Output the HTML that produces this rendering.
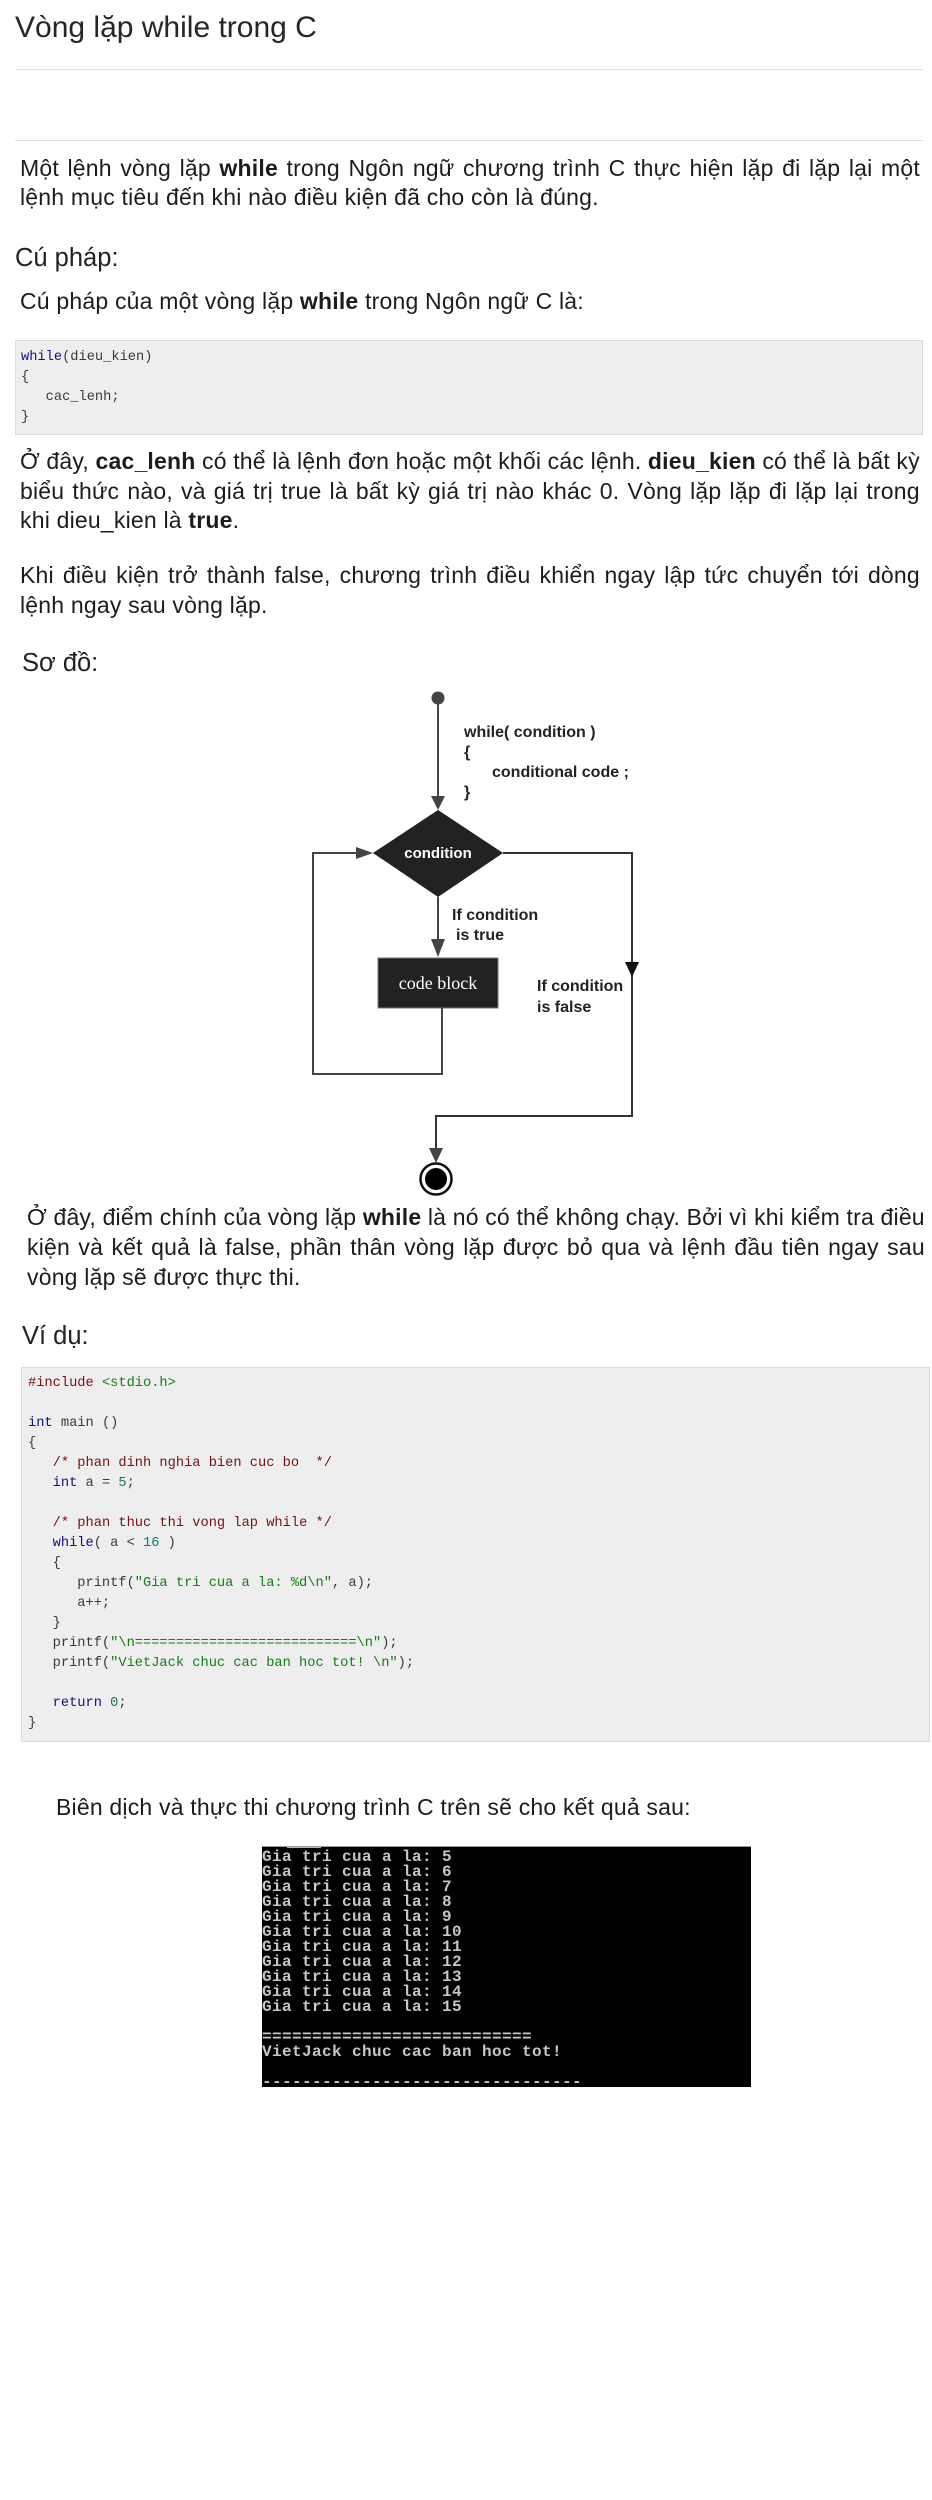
<!DOCTYPE html>
<html lang="vi">
<head>
<meta charset="utf-8">
<title>Vòng lặp while trong C</title>
<style>
  html,body{margin:0;padding:0;background:#fff;}
  body{width:932px;height:2500px;position:relative;overflow:hidden;
       font-family:"Liberation Sans","DejaVu Sans",sans-serif;color:#1c1c1c;}
  .a{position:absolute;}
  .hr{left:15px;width:908px;height:1px;background:#e0e0e0;}
  .p{font-size:23px;letter-spacing:0.2px;}
  .jl{display:flex;justify-content:space-between;white-space:nowrap;}
  .last{white-space:nowrap;}
  .h{font-size:25.5px;line-height:30px;color:#222;white-space:nowrap;}
  b{font-weight:bold;}
  .code{background:#eeeeee;border:1px solid #dcdcdc;box-sizing:border-box;}
  .code pre{margin:0;font-family:"Liberation Mono","DejaVu Sans Mono",monospace;
            font-size:13.7px;line-height:20px;color:#3a3a3a;white-space:pre;}
  .k{color:#10108a;}
  .pp{color:#7a1010;}
  .c{color:#7a1010;}
  .s{color:#108010;}
  .n{color:#0a7a6a;}
  .term{background:#000;overflow:hidden;border-top:1px solid #9a9a9a;box-sizing:border-box;}
  .term pre{margin:0;font-family:"Liberation Mono","DejaVu Sans Mono",monospace;font-weight:bold;
            font-size:16px;letter-spacing:0.4px;line-height:15px;color:#c6c6c6;white-space:pre;}
</style>
</head>
<body>

<div class="a" style="left:15px;top:10px;font-size:30px;line-height:36px;color:#262626;white-space:nowrap;">Vòng lặp while trong C</div>
<div class="a hr" style="top:69px;"></div>
<div class="a hr" style="top:140px;"></div>

<!-- P1 -->
<div class="a p" style="left:20px;top:154px;width:900px;line-height:29px;">
  <div class="jl"><span>Một</span><span>lệnh</span><span>vòng</span><span>lặp</span><b>while</b><span>trong</span><span>Ngôn</span><span>ngữ</span><span>chương</span><span>trình</span><span>C</span><span>thực</span><span>hiện</span><span>lặp</span><span>đi</span><span>lặp</span><span>lại</span><span>một</span></div>
  <div class="last">lệnh mục tiêu đến khi nào điều kiện đã cho còn là đúng.</div>
</div>

<div class="a h" style="left:15px;top:243px;">Cú pháp:</div>

<div class="a p last" style="left:20px;top:287px;line-height:29px;">Cú pháp của một vòng lặp <b>while</b> trong Ngôn ngữ C là:</div>

<div class="a code" style="left:15px;top:340px;width:908px;height:95px;padding:7px 0 0 5px;">
<pre><span class="k">while</span>(dieu_kien)
{
   cac_lenh;
}</pre>
</div>

<!-- P3 -->
<div class="a p" style="left:20px;top:447px;width:900px;line-height:29.5px;">
  <div class="jl"><span>Ở</span><span>đây,</span><b>cac_lenh</b><span>có</span><span>thể</span><span>là</span><span>lệnh</span><span>đơn</span><span>hoặc</span><span>một</span><span>khối</span><span>các</span><span>lệnh.</span><b>dieu_kien</b><span>có</span><span>thể</span><span>là</span><span>bất</span><span>kỳ</span></div>
  <div class="jl"><span>biểu</span><span>thức</span><span>nào,</span><span>và</span><span>giá</span><span>trị</span><span>true</span><span>là</span><span>bất</span><span>kỳ</span><span>giá</span><span>trị</span><span>nào</span><span>khác</span><span>0.</span><span>Vòng</span><span>lặp</span><span>lặp</span><span>đi</span><span>lặp</span><span>lại</span><span>trong</span></div>
  <div class="last">khi dieu_kien là <b>true</b>.</div>
</div>

<!-- P4 -->
<div class="a p" style="left:20px;top:560px;width:900px;line-height:30px;">
  <div class="jl"><span>Khi</span><span>điều</span><span>kiện</span><span>trở</span><span>thành</span><span>false,</span><span>chương</span><span>trình</span><span>điều</span><span>khiển</span><span>ngay</span><span>lập</span><span>tức</span><span>chuyển</span><span>tới</span><span>dòng</span></div>
  <div class="last">lệnh ngay sau vòng lặp.</div>
</div>

<div class="a h" style="left:22px;top:648px;">Sơ đồ:</div>

<!-- Flowchart -->
<svg class="a" style="left:0;top:680px;" width="932" height="520" viewBox="0 680 932 520" xmlns="http://www.w3.org/2000/svg">
  <!-- start -->
  <circle cx="438" cy="698" r="6.5" fill="#444"/>
  <line x1="438" y1="700" x2="438" y2="798" stroke="#444" stroke-width="2"/>
  <polygon points="431,796 445,796 438,810" fill="#444"/>
  <!-- code text -->
  <g font-family="Liberation Sans, Arial, sans-serif" font-weight="bold" font-size="16" fill="#222">
    <text x="464" y="737">while( condition )</text>
    <text x="464" y="757">{</text>
    <text x="492" y="777">conditional code ;</text>
    <text x="464" y="797">}</text>
  </g>
  <!-- diamond -->
  <polygon points="438,810 503,853 438,897 373,853" fill="#222"/>
  <text x="438" y="858" text-anchor="middle" font-family="Liberation Sans, Arial, sans-serif" font-weight="bold" font-size="15" fill="#fff">condition</text>
  <!-- true path -->
  <line x1="438" y1="897" x2="438" y2="942" stroke="#444" stroke-width="2"/>
  <polygon points="431,939 445,939 438,957" fill="#444"/>
  <g font-family="Liberation Sans, Arial, sans-serif" font-weight="bold" font-size="16" fill="#222">
    <text x="452" y="920">If condition</text>
    <text x="456" y="940">is true</text>
    <text x="537" y="991">If condition</text>
    <text x="537" y="1012">is false</text>
  </g>
  <!-- code block -->
  <rect x="378" y="958" width="120" height="50" fill="#222" stroke="#777" stroke-width="1"/>
  <text x="438" y="989" text-anchor="middle" font-family="Liberation Serif, serif" font-size="18" fill="#fff">code block</text>
  <!-- loop back -->
  <polyline points="442,1008 442,1074 313,1074 313,853 360,853" fill="none" stroke="#444" stroke-width="2"/>
  <polygon points="356,847 356,859 373,853" fill="#444"/>
  <!-- false path -->
  <polyline points="503,853 632,853 632,1116 436,1116 436,1150" fill="none" stroke="#333" stroke-width="2"/>
  <polygon points="625,962 639,962 632,977" fill="#111"/>
  <polygon points="429,1148 443,1148 436,1163" fill="#444"/>
  <!-- end -->
  <circle cx="436" cy="1179" r="15.5" fill="#fff" stroke="#111" stroke-width="2.5"/>
  <circle cx="436" cy="1179" r="11" fill="#000"/>
</svg>

<!-- P5 -->
<div class="a p" style="left:27px;top:1202px;width:898px;line-height:30px;">
  <div class="jl"><span>Ở</span><span>đây,</span><span>điểm</span><span>chính</span><span>của</span><span>vòng</span><span>lặp</span><b>while</b><span>là</span><span>nó</span><span>có</span><span>thể</span><span>không</span><span>chạy.</span><span>Bởi</span><span>vì</span><span>khi</span><span>kiểm</span><span>tra</span><span>điều</span></div>
  <div class="jl"><span>kiện</span><span>và</span><span>kết</span><span>quả</span><span>là</span><span>false,</span><span>phần</span><span>thân</span><span>vòng</span><span>lặp</span><span>được</span><span>bỏ</span><span>qua</span><span>và</span><span>lệnh</span><span>đầu</span><span>tiên</span><span>ngay</span><span>sau</span></div>
  <div class="last">vòng lặp sẽ được thực thi.</div>
</div>

<div class="a h" style="left:22px;top:1321px;">Ví dụ:</div>

<div class="a code" style="left:21px;top:1367px;width:909px;height:375px;padding:6px 0 0 6px;">
<pre><span class="pp">#include</span> <span class="s">&lt;stdio.h&gt;</span>

<span class="k">int</span> main ()
{
   <span class="c">/* phan dinh nghia bien cuc bo  */</span>
   <span class="k">int</span> a = <span class="n">5</span>;

   <span class="c">/* phan thuc thi vong lap while */</span>
   <span class="k">while</span>( a &lt; <span class="n">16</span> )
   {
      printf(<span class="s">"Gia tri cua a la: %d\n"</span>, a);
      a++;
   }
   printf(<span class="s">"\n===========================\n"</span>);
   printf(<span class="s">"VietJack chuc cac ban hoc tot! \n"</span>);

   <span class="k">return</span> <span class="n">0</span>;
}</pre>
</div>

<div class="a p last" style="left:56px;top:1792px;line-height:30px;">Biên dịch và thực thi chương trình C trên sẽ cho kết quả sau:</div>

<div class="a term" style="left:262px;top:1846px;width:489px;height:241px;">
<div style="position:absolute;left:25px;top:-1px;width:34px;height:2px;background:#aab8cc;"></div>
<pre style="position:absolute;left:0;top:3px;">Gia tri cua a la: 5
Gia tri cua a la: 6
Gia tri cua a la: 7
Gia tri cua a la: 8
Gia tri cua a la: 9
Gia tri cua a la: 10
Gia tri cua a la: 11
Gia tri cua a la: 12
Gia tri cua a la: 13
Gia tri cua a la: 14
Gia tri cua a la: 15

===========================
VietJack chuc cac ban hoc tot!

--------------------------------</pre>
</div>

</body>
</html>
